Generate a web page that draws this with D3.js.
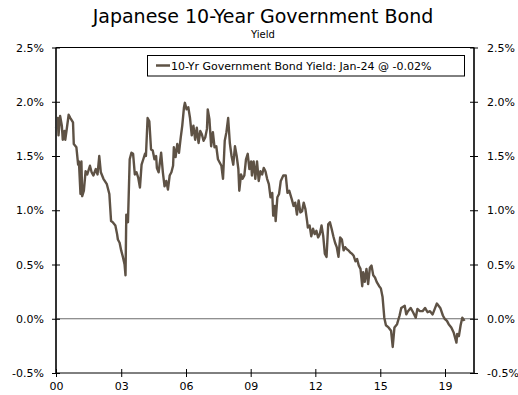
<!DOCTYPE html>
<html><head><meta charset="utf-8">
<script src="https://cdn.jsdelivr.net/npm/d3@7"></script>
<style>
body{margin:0;background:#fff}
text{font-family:"DejaVu Sans",Verdana,sans-serif;fill:#000}
</style>
</head><body>
<svg id="chart" width="518" height="395"></svg>
<script>
const dates = [
"2000-01-01","2000-02-01","2000-02-15","2000-03-15","2000-04-15","2000-05-01","2000-06-01","2000-06-15","2000-07-15","2000-08-15",
"2000-09-15","2000-11-01","2000-11-15","2001-01-01","2001-02-01","2001-02-15","2001-03-15","2001-04-01","2001-04-15","2001-05-15",
"2001-06-15","2001-07-15","2001-09-01","2001-10-01","2001-11-01","2001-12-15","2002-01-15","2002-02-15","2002-03-15","2002-05-01",
"2002-07-01","2002-08-15","2002-09-15","2002-10-15","2002-12-01","2003-01-01","2003-01-15","2003-02-15","2003-03-15","2003-04-15",
"2003-05-15","2003-06-01","2003-06-15","2003-07-15","2003-08-15","2003-09-15","2003-10-15","2003-11-15","2003-12-15","2004-01-15",
"2004-02-15","2004-03-15","2004-04-15","2004-05-15","2004-06-01","2004-07-01","2004-08-01","2004-09-01","2004-10-01","2004-11-01",
"2004-12-01","2004-12-15","2005-01-15","2005-03-01","2005-04-01","2005-05-01","2005-06-01","2005-07-01","2005-08-01","2005-09-01",
"2005-10-01","2005-10-15","2005-11-15","2005-12-15","2006-01-15","2006-02-15","2006-03-15","2006-04-15","2006-05-01","2006-06-01",
"2006-07-01","2006-08-01","2006-09-01","2006-10-01","2006-11-01","2006-12-01","2007-01-01","2007-02-01","2007-03-01","2007-04-01",
"2007-05-01","2007-06-01","2007-06-15","2007-07-15","2007-08-15","2007-09-15","2007-10-15","2007-11-15","2007-12-15","2008-01-15",
"2008-02-15","2008-03-15","2008-04-15","2008-05-15","2008-06-15","2008-07-15","2008-08-15","2008-09-15","2008-10-15","2008-11-15",
"2008-12-15","2009-01-01","2009-02-01","2009-03-01","2009-04-01","2009-05-01","2009-06-01","2009-07-01","2009-08-01","2009-08-15",
"2009-09-15","2009-10-15","2009-11-15","2009-12-15","2010-01-15","2010-02-15","2010-03-15","2010-04-15","2010-05-15","2010-06-15",
"2010-07-15","2010-08-15","2010-09-01","2010-10-01","2010-10-15","2010-11-15","2010-12-15","2011-01-15","2011-03-01","2011-04-15",
"2011-05-15","2011-06-15","2011-08-01","2011-09-01","2011-10-01","2011-11-01","2011-12-01","2012-01-01","2012-02-01","2012-03-01",
"2012-04-01","2012-05-01","2012-05-15","2012-06-15","2012-07-15","2012-08-15","2012-09-15","2012-10-15","2012-11-15","2012-12-15",
"2013-01-15","2013-02-15","2013-03-15","2013-04-15","2013-05-15","2013-06-15","2013-07-15","2013-08-15","2013-09-15","2013-10-15",
"2013-11-15","2013-12-15","2014-01-15","2014-02-15","2014-03-15","2014-04-15","2014-05-15","2014-06-15","2014-07-15","2014-08-15",
"2014-09-15","2014-10-15","2014-11-15","2014-12-15","2015-01-15","2015-02-01","2015-03-01","2015-04-01","2015-05-01","2015-06-01",
"2015-07-01","2015-08-01","2015-09-01","2015-10-01","2015-11-15","2015-12-15","2016-01-15","2016-02-15","2016-03-15","2016-05-01",
"2016-06-15","2016-07-15","2016-08-15","2016-10-01","2016-11-15","2016-12-15","2017-02-15","2017-03-15","2017-04-15","2017-06-01",
"2017-07-15","2017-09-01","2017-10-01","2017-11-15","2018-01-01","2018-02-15","2018-04-01","2018-05-15","2018-07-01","2018-08-15",
"2018-09-15","2018-11-15","2019-01-01","2019-02-01","2019-03-15","2019-04-15","2019-06-01","2019-07-15","2019-09-01","2019-09-15",
"2019-10-15","2019-11-15","2019-12-15","2020-01-24"
];
const yields = [
1.76,1.85,1.69,1.87,1.78,1.65,1.73,1.65,1.76,1.88,
1.85,1.81,1.61,1.58,1.42,1.45,1.15,1.45,1.13,1.18,
1.36,1.33,1.41,1.35,1.32,1.38,1.33,1.50,1.35,1.29,
1.24,1.15,0.90,0.89,0.86,0.78,0.73,0.70,0.63,0.57,
0.50,0.40,0.96,0.89,1.47,1.53,1.52,1.33,1.35,1.30,
1.21,1.42,1.47,1.52,1.50,1.85,1.82,1.56,1.55,1.47,
1.50,1.39,1.35,1.53,1.35,1.22,1.27,1.19,1.32,1.35,
1.41,1.58,1.49,1.61,1.53,1.67,1.78,1.95,1.99,1.93,
1.95,1.85,1.69,1.78,1.65,1.76,1.62,1.73,1.70,1.64,
1.67,1.75,1.93,1.84,1.59,1.72,1.58,1.59,1.47,1.44,
1.41,1.29,1.64,1.72,1.85,1.62,1.50,1.42,1.59,1.50,
1.38,1.18,1.33,1.29,1.32,1.47,1.52,1.38,1.45,1.32,
1.45,1.29,1.45,1.27,1.36,1.33,1.39,1.36,1.29,1.24,
1.12,1.16,0.95,1.04,0.90,1.12,1.15,1.27,1.32,1.32,
1.16,1.18,1.10,1.04,1.07,0.96,1.09,0.98,0.99,1.07,
1.01,0.90,0.84,0.86,0.76,0.83,0.78,0.81,0.75,0.78,
0.86,0.76,0.60,0.57,0.87,0.89,0.83,0.76,0.70,0.66,
0.57,0.75,0.73,0.63,0.66,0.64,0.63,0.61,0.60,0.58,
0.53,0.55,0.49,0.46,0.30,0.43,0.34,0.46,0.32,0.47,
0.49,0.40,0.38,0.34,0.30,0.28,0.20,0.01,-0.06,-0.08,
-0.11,-0.26,-0.08,-0.05,0.03,0.10,0.12,0.04,0.07,0.10,
0.06,0.01,0.09,0.07,0.07,0.10,0.06,0.07,0.04,0.10,
0.14,0.10,0.03,0.00,-0.02,-0.05,-0.08,-0.13,-0.22,-0.14,
-0.16,-0.06,0.01,-0.02
];
const yTicks = [-0.5, 0, 0.5, 1.0, 1.5, 2.0, 2.5];
const xTickDates = ["2000-01-01","2003-03-16","2006-05-21","2009-07-24","2012-09-26","2015-12-05","2019-02-08"];
const xTickLabels = ["00","03","06","09","12","15","19"];
const xDomain = ["2000-01-01","2020-07-12"];
const titleText = "Japanese 10-Year Government Bond";
const subtitleText = "Yield";
const legendText = "10-Yr Government Bond Yield: Jan-24 @ -0.02%";

const parse = d3.timeParse("%Y-%m-%d");
const data = dates.map((d, i) => ({date: parse(d), value: yields[i]}));

const L = 56, R = 474, T = 47.5, B = 373;
const lineColor = "#5e5245";
const svg = d3.select("#chart");

const x = d3.scaleTime().domain(xDomain.map(parse)).range([L, R]);
const y = d3.scaleLinear().domain([-0.5, 2.5]).range([B, T]);

// title
svg.append("text").attr("x", 263).attr("y", 23).attr("text-anchor", "middle")
  .style("font-size", "19px").text(titleText);
svg.append("text").attr("x", 263).attr("y", 38).attr("text-anchor", "middle")
  .style("font-size", "10px").text(subtitleText);

// zero line
svg.append("line").attr("x1", L).attr("x2", R).attr("y1", y(0)).attr("y2", y(0))
  .attr("stroke", "#6b6b6b").attr("stroke-width", 1.2);

// series
const line = d3.line().x(d => x(d.date)).y(d => y(d.value));
svg.append("path").datum(data).attr("d", line).attr("fill", "none")
  .attr("stroke", lineColor).attr("stroke-width", 2.4).attr("stroke-linejoin", "round");

// frame lines
svg.append("line").attr("x1", L).attr("x2", R).attr("y1", T).attr("y2", T).attr("stroke", "#000").attr("stroke-width", 1);
svg.append("line").attr("x1", L).attr("x2", R).attr("y1", B).attr("y2", B).attr("stroke", "#000").attr("stroke-width", 1);
svg.append("line").attr("x1", L).attr("x2", L).attr("y1", T).attr("y2", B).attr("stroke", "#333").attr("stroke-width", 2);
svg.append("line").attr("x1", R).attr("x2", R).attr("y1", T).attr("y2", B).attr("stroke", "#333").attr("stroke-width", 2);

const fmt = d => d.toFixed(1) + "%";
// left axis
const gl = svg.append("g").attr("transform", `translate(${L},0)`)
  .call(d3.axisLeft(y).tickValues(yTicks).tickFormat(fmt).tickSize(4).tickPadding(8));
gl.select(".domain").remove();
gl.selectAll(".tick line").attr("x1", -4).attr("x2", 4).attr("stroke", "#000");
gl.selectAll(".tick text").style("font-size", "11px").attr("x", -12);
// right axis
const gr = svg.append("g").attr("transform", `translate(${R},0)`)
  .call(d3.axisRight(y).tickValues(yTicks).tickFormat(fmt).tickSize(4).tickPadding(8));
gr.select(".domain").remove();
gr.selectAll(".tick line").attr("x1", -4).attr("x2", 4).attr("stroke", "#000");
gr.selectAll(".tick text").style("font-size", "11px").attr("x", 13);
// bottom axis
const gb = svg.append("g").attr("transform", `translate(0,${B})`)
  .call(d3.axisBottom(x).tickValues(xTickDates.map(parse)).tickFormat((d, i) => xTickLabels[i]).tickSize(4));
gb.select(".domain").remove();
gb.selectAll(".tick line").attr("y1", -4).attr("y2", 4).attr("stroke", "#000");
gb.selectAll(".tick text").style("font-size", "11px").attr("y", 9);
svg.selectAll(".tick text").style("fill", "#000").style("font-family", '"DejaVu Sans",Verdana,sans-serif');

// legend
svg.append("rect").attr("x", 147.5).attr("y", 55.5).attr("width", 317).attr("height", 20.5)
  .attr("fill", "#fff").attr("stroke", "#000").attr("stroke-width", 1);
svg.append("line").attr("x1", 156).attr("x2", 170).attr("y1", 65.5).attr("y2", 65.5)
  .attr("stroke", lineColor).attr("stroke-width", 2.5);
svg.append("text").attr("x", 171).attr("y", 69.5).style("font-size", "11px").text(legendText);
</script>
</body></html>
